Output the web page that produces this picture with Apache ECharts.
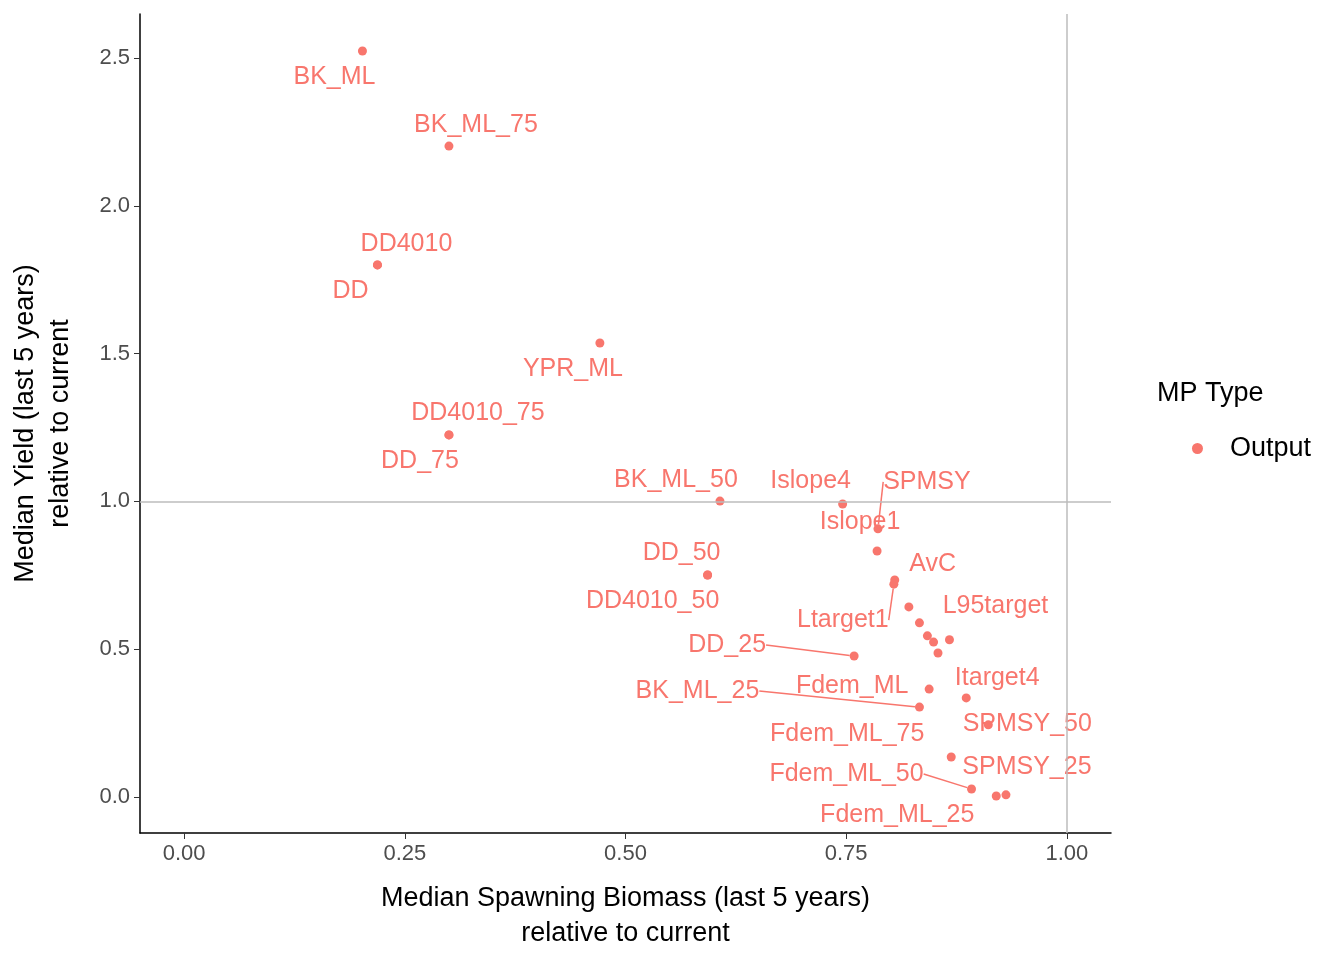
<!DOCTYPE html>
<html><head><meta charset="utf-8">
<script src="https://cdn.jsdelivr.net/npm/echarts@6/dist/echarts.min.js"></script>
<style>html,body{margin:0;background:#fff}#c{width:1344px;height:960px}</style>
</head><body><div id="c"></div>
<script>
// data
const labels = ["BK_ML","BK_ML_75","DD4010","DD","YPR_ML","DD4010_75","DD_75","BK_ML_50","Islope4","SPMSY","Islope1","DD_50","DD4010_50","AvC","Ltarget1","L95target","DD_25","Fdem_ML","BK_ML_25","Itarget4","SPMSY_50","Fdem_ML_75","Fdem_ML_50","SPMSY_25","Fdem_ML_25","","","","",""];
const biomass = [0.202,0.300,0.219,0.219,0.471,0.300,0.300,0.607,0.746,0.786,0.785,0.593,0.593,0.805,0.804,0.867,0.759,0.844,0.833,0.886,0.911,0.869,0.892,0.931,0.920,0.821,0.833,0.842,0.849,0.854];
const yieldv = [2.524,2.202,1.800,1.800,1.536,1.225,1.225,1.001,0.991,0.907,0.832,0.751,0.751,0.734,0.720,0.532,0.477,0.365,0.304,0.335,0.244,0.135,0.027,0.007,0.003,0.643,0.589,0.545,0.524,0.487];
const xTicks = [0,0.25,0.5,0.75,1];
const yTicks = [0,0.5,1,1.5,2,2.5];
// label placement (pixels) and leader-line flags
const labelOffsets = [[-28,26],[27,-21],[29,-21],[-27,26],[-27,26],[29,-22],[-29,26],[-44,-21],[-32,-23],[49,-47],[-17,-29],[-26,-22],[-55,26],[38,-16],[-51,36],[46,-34],[-127,-11],[-77,-3],[-222,-16],[31,-20],[39,-1],[-104,-23],[-125,-15],[21,-28],[-99,19]];
const leader = [9,14,16,18,22];
const col = '#F8766D';
const chart = echarts.init(document.getElementById('c'));
const data = labels.map((l,i)=>({value:[biomass[i],yieldv[i]], name:l,
  labelLine:{show:leader.includes(i), lineStyle:{color:col,width:1.5}}}));
chart.setOption({
  animation:false,
  grid:{left:137,right:233,top:14,bottom:127},
  xAxis:{type:'value',min:-0.05,max:1.05,splitLine:{show:false},
    axisLine:{onZero:false,lineStyle:{color:'#000',width:1.5}},
    axisTick:{show:true,customValues:xTicks,length:6,lineStyle:{color:'#333'}},
    axisLabel:{customValues:xTicks,formatter:v=>v.toFixed(2),color:'#4d4d4d',fontSize:22,fontFamily:'Liberation Sans',margin:10},
    name:'Median Spawning Biomass (last 5 years)\nrelative to current',nameLocation:'middle',nameGap:48,
    nameTextStyle:{color:'#000',fontSize:27,fontFamily:'Liberation Sans',lineHeight:35}},
  yAxis:{type:'value',min:-0.122,max:2.649,splitLine:{show:false},
    axisLine:{onZero:false,lineStyle:{color:'#000',width:1.5}},
    axisTick:{show:true,customValues:yTicks,length:6,lineStyle:{color:'#333'}},
    axisLabel:{customValues:yTicks,formatter:v=>v.toFixed(1),color:'#4d4d4d',fontSize:22,fontFamily:'Liberation Sans',margin:10},
    name:'Median Yield (last 5 years)\nrelative to current',nameLocation:'middle',nameGap:62,
    nameTextStyle:{color:'#000',fontSize:27,fontFamily:'Liberation Sans',lineHeight:35}},
  legend:{right:28,top:430,data:['Output'],icon:'circle',itemWidth:11,itemHeight:11,itemGap:10,
    textStyle:{color:'#000',fontSize:27,fontFamily:'Liberation Sans',padding:[0,0,0,22]}},
  graphic:[{type:'text',left:1157,top:380,style:{text:'MP Type',fontSize:27,fontFamily:'Liberation Sans',fill:'#000'}}],
  series:[{type:'scatter',name:'Output',data:data,symbolSize:9,itemStyle:{color:col,opacity:1},
    label:{show:true,position:'inside',formatter:p=>p.name,color:col,fontSize:25,fontFamily:'Liberation Sans'},
    labelLayout:p=>{const o=labelOffsets[p.dataIndex]||[0,0];return {dx:o[0],dy:o[1]};},
    markLine:{silent:true,symbol:'none',label:{show:false},lineStyle:{color:'#bdbdbd',type:'solid',width:1.5},
      data:[{xAxis:1},{yAxis:1}]}}]
});
</script></body></html>
